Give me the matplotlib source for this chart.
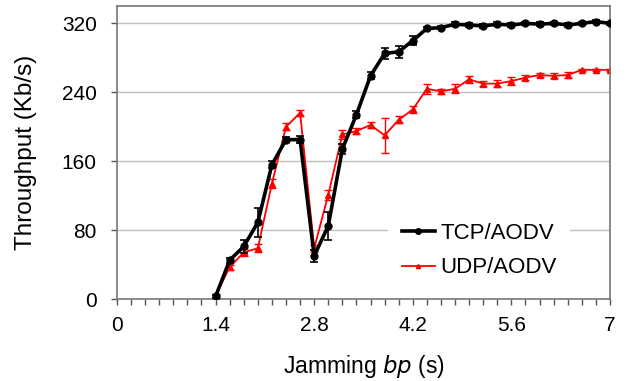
import matplotlib
matplotlib.use("Agg")
import matplotlib.pyplot as plt
from matplotlib.lines import Line2D
from matplotlib.ticker import MultipleLocator

plt.rcParams['font.family'] = ['Liberation Sans', 'DejaVu Sans']

bp = [1.4, 1.6, 1.8, 2.0, 2.2, 2.4, 2.6, 2.8, 3.0, 3.2, 3.4, 3.6, 3.8, 4.0,
      4.2, 4.4, 4.6, 4.8, 5.0, 5.2, 5.4, 5.6, 5.8, 6.0, 6.2, 6.4, 6.6, 6.8, 7.0]
tcp = [3, 45, 61, 89, 156, 185, 185, 50, 85, 174, 214, 259, 285, 287,
       300, 314, 315, 319, 318, 317, 319, 318, 320, 319, 320, 318, 320, 322, 320]
tcp_err = [2, 3, 8, 17, 4, 3, 4, 7, 16, 6, 4, 4, 6, 7,
           5, 2, 2, 2, 2, 2, 2, 2, 2, 2, 2, 2, 2, 2, 2]
udp = [4, 37, 54, 59, 134, 200, 216, 59, 121, 191, 195, 202, 190, 208,
       220, 244, 241, 244, 255, 250, 250, 253, 257, 260, 259, 260, 266, 266, 266]
udp_err = [2, 3, 4, 5, 5, 4, 3, 4, 6, 5, 3, 3, 20, 4,
           4, 6, 3, 5, 4, 3, 4, 5, 3, 2, 3, 3, 1, 1, 1]

x_ticks = [0, 1.4, 2.8, 4.2, 5.6, 7]
x_ticklabels = ["0", "1.4", "2.8", "4.2", "5.6", "7"]
y_ticks = [0, 80, 160, 240, 320]
series_names = ['TCP/AODV', 'UDP/AODV']

fig = plt.figure(figsize=(6.41, 3.81), dpi=100)
ax = fig.add_axes([0.1825, 0.2152, 0.7691, 0.7688])

ax.errorbar(bp, tcp, yerr=tcp_err, color='black', lw=2.6, marker='o', ms=5,
            capsize=3, elinewidth=1.2, capthick=1.2, zorder=3)
ax.errorbar(bp, udp, yerr=udp_err, color='#ff0000', lw=1.3, marker='^', ms=4,
            capsize=3, elinewidth=1.0, capthick=1.0, zorder=2)

ax.set_xlim(0, 7)
ax.set_ylim(0, 340)
ax.set_xticks(x_ticks)
ax.set_xticklabels(x_ticklabels)
ax.xaxis.set_minor_locator(MultipleLocator(0.2))
ax.set_yticks(y_ticks)
ax.yaxis.grid(True, color='#c0c0c0', lw=1.0)
ax.set_axisbelow(True)
ax.tick_params(axis='both', which='major', direction='out', length=4.5, width=1,
               color='#555555', labelsize=15)
ax.tick_params(axis='x', which='major', pad=8)
ax.tick_params(axis='y', which='major', pad=10)
ax.tick_params(axis='x', which='minor', direction='out', length=4.5, width=1, color='#555555')
for s in ax.spines.values():
    s.set_color('#777777')
    s.set_linewidth(1.2)

ax.set_xlabel('Jamming $\\it{bp}$ (s)', fontsize=16.5, labelpad=13)
ax.set_ylabel('Throughput (Kb/s)', fontsize=17.5, labelpad=18)

handles = [Line2D([], [], color='black', lw=2.6, marker='o', ms=4),
           Line2D([], [], color='#ff0000', lw=1.3, marker='^', ms=3)]
leg = ax.legend(handles, series_names, loc='center', bbox_to_anchor=(0.735, 0.165),
                frameon=True, fontsize=16, handlelength=1.5, labelspacing=0.6,
                handletextpad=0.25, borderpad=0.6, borderaxespad=0)
leg.get_frame().set_edgecolor('none')
leg.get_frame().set_facecolor('white')
leg.get_frame().set_alpha(1.0)
leg.get_frame().set_boxstyle('square', pad=0)
leg.set_zorder(2.4)

fig.savefig('out.png', dpi=100)
